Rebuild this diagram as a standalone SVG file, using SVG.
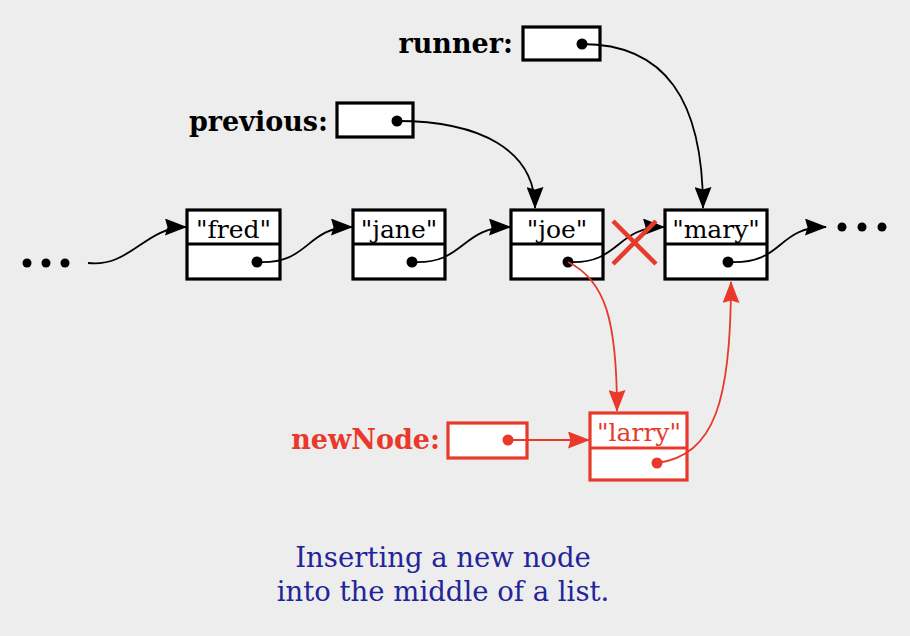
<svg xmlns="http://www.w3.org/2000/svg" width="910" height="636" viewBox="0 0 910 636">
<defs>
<marker id="ab" viewBox="0 0 22 17" refX="21" refY="8.5" markerWidth="22" markerHeight="17" markerUnits="userSpaceOnUse" orient="auto"><path d="M0,0 L22,8.5 L0,17 L2.5,8.5 Z" fill="#000"/></marker>
<marker id="ar" viewBox="0 0 22 17" refX="21" refY="8.5" markerWidth="22" markerHeight="17" markerUnits="userSpaceOnUse" orient="auto"><path d="M0,0 L22,8.5 L0,17 L2.5,8.5 Z" fill="#e8392a"/></marker>
</defs>
<style>
.bx{fill:#fff;stroke:#000;stroke-width:3.2}
.rbx{fill:#fff;stroke:#e8392a;stroke-width:3.2}
.t{font-family:"DejaVu Serif",serif;font-size:25px;text-anchor:middle}
.lb{font-family:"DejaVu Serif",serif;font-size:27px;font-weight:bold;text-anchor:end}
.c{fill:none;stroke:#000;stroke-width:1.8}
.rc{fill:none;stroke:#e8392a;stroke-width:1.8}
.cap{font-family:"DejaVu Serif",serif;font-size:27.5px;fill:#24249a;text-anchor:middle}
</style>
<rect width="910" height="636" fill="#ededed"/>
<g id="dots-left" fill="#000"><circle cx="27" cy="263" r="4.5"/><circle cx="46" cy="263" r="4.5"/><circle cx="65" cy="263" r="4.5"/></g>
<g id="dots-right" fill="#000"><circle cx="842" cy="227" r="4.5"/><circle cx="862" cy="227" r="4.5"/><circle cx="882" cy="227" r="4.5"/></g>
<g id="fred"><rect class="bx" x="187" y="210" width="93" height="69"/><line x1="187" y1="244" x2="280" y2="244" stroke="#000" stroke-width="3.2"/><text class="t" x="233.5" y="238">"fred"</text><circle cx="257" cy="262" r="5.5"/></g>
<g id="jane"><rect class="bx" x="353" y="210" width="92" height="69"/><line x1="353" y1="244" x2="445" y2="244" stroke="#000" stroke-width="3.2"/><text class="t" x="399" y="238">"jane"</text><circle cx="412" cy="262" r="5.5"/></g>
<g id="joe"><rect class="bx" x="511" y="210" width="92" height="69"/><line x1="511" y1="244" x2="603" y2="244" stroke="#000" stroke-width="3.2"/><text class="t" x="557" y="238">"joe"</text><circle cx="568" cy="262" r="5.5"/></g>
<g id="mary"><rect class="bx" x="665" y="210" width="102" height="69"/><line x1="665" y1="244" x2="767" y2="244" stroke="#000" stroke-width="3.2"/><text class="t" x="716" y="238">"mary"</text><circle cx="728" cy="262" r="5.5"/></g>
<g id="larry"><rect class="rbx" x="590" y="413" width="97" height="67"/><line x1="590" y1="448" x2="687" y2="448" stroke="#e8392a" stroke-width="3.2"/><text class="t" x="639" y="441" fill="#e8392a">"larry"</text><circle cx="657" cy="463" r="5.5" fill="#e8392a"/></g>
<g id="runner"><text class="lb" x="513" y="53">runner:</text><rect class="bx" x="523" y="27" width="77" height="33"/><circle cx="582" cy="44" r="5.5"/></g>
<g id="previous"><text class="lb" x="328" y="131">previous:</text><rect class="bx" x="337" y="103" width="76" height="34"/><circle cx="397" cy="121" r="5.5"/></g>
<g id="newNode"><text class="lb" x="440" y="449" fill="#e8392a">newNode:</text><rect class="rbx" x="448" y="423" width="79" height="35"/><circle cx="508" cy="440" r="5.5" fill="#e8392a"/></g>
<g id="connectors">
<path class="c" d="M88,263 C130,268 145,227 186,227" marker-end="url(#ab)"/>
<path class="c" d="M257,262 C310,265 305,227 352,227" marker-end="url(#ab)"/>
<path class="c" d="M412,262 C465,265 460,227 510,227" marker-end="url(#ab)"/>
<path class="c" d="M568,262 C620,265 615,227 664,227" marker-end="url(#ab)"/>
<path class="c" d="M728,262 C785,265 775,227 826,227" marker-end="url(#ab)"/>
<path class="c" d="M397,121 C480,121 535,150 535,208" marker-end="url(#ab)"/>
<path class="c" d="M582,44 C665,44 703,100 703,208" marker-end="url(#ab)"/>
<path class="rc" d="M568,262 C605,280 617,320 617,411" marker-end="url(#ar)"/>
<path class="rc" d="M508,440 L589,440" marker-end="url(#ar)"/>
<path class="rc" d="M657,463 C715,455 731,400 731,282" marker-end="url(#ar)"/>
</g>
<g id="cross" stroke="#e8392a" stroke-width="4.5"><line x1="613" y1="221" x2="656" y2="264"/><line x1="656" y1="221" x2="613" y2="264"/></g>
<g id="caption"><text class="cap" x="443" y="567">Inserting a new node</text><text class="cap" x="443" y="601">into the middle of a list.</text></g>
</svg>
